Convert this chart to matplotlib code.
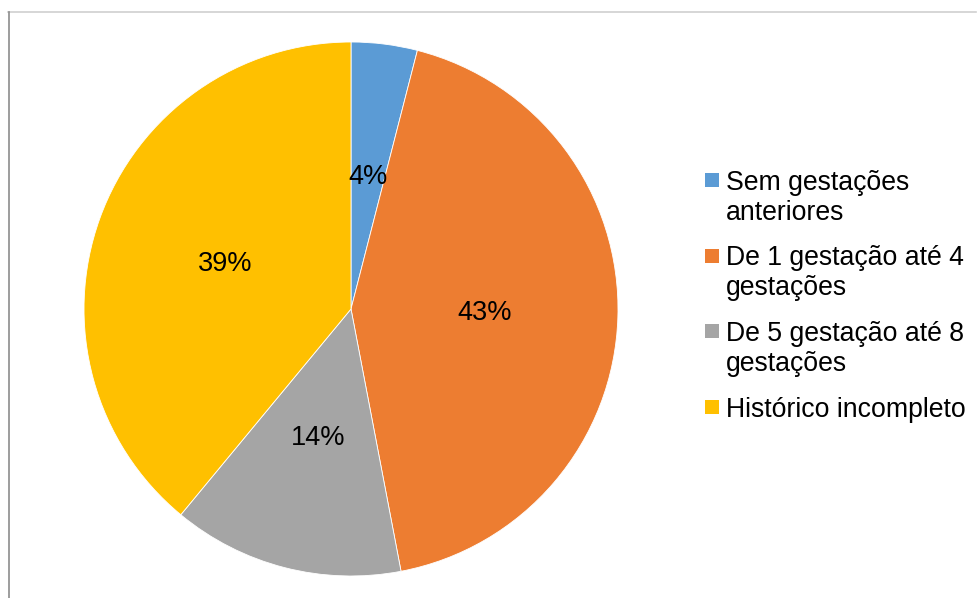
import matplotlib
matplotlib.use("Agg")
import matplotlib.pyplot as plt
from matplotlib.patches import Rectangle
from matplotlib.lines import Line2D

categories = ["Sem gestações\nanteriores",
              "De 1 gestação até 4\ngestações",
              "De 5 gestação até 8\ngestações",
              "Histórico incompleto"]
values = [4, 43, 14, 39]
colors = ["#5B9BD5", "#ED7D31", "#A5A5A5", "#FFC000"]

plt.rcParams['font.family'] = ['Liberation Sans', 'DejaVu Sans']

W, H = 978, 598
fig = plt.figure(figsize=(W / 100, H / 100), dpi=100)

cx, cy, r = 351, 309, 267
ax = fig.add_axes([(cx - r) / W, (H - cy - r) / H, 2 * r / W, 2 * r / H])
wedges, texts, autotexts = ax.pie(values, colors=colors, startangle=90, counterclock=False,
                                  autopct='%1.0f%%', pctdistance=0.5, radius=1,
                                  wedgeprops=dict(linewidth=0.6, edgecolor='white'),
                                  textprops=dict(fontsize=19.5, color='#000000'))
ax.set_xlim(-1, 1)
ax.set_ylim(-1, 1)
ax.set_aspect('equal')
ax.axis('off')

# border lines
fig.add_artist(Line2D([8 / W, 976 / W], [(H - 12) / H, (H - 12) / H], color='#d0d0d0', lw=1.2))
fig.add_artist(Line2D([8.5 / W, 8.5 / W], [0, (H - 12) / H], color='#8c8c8c', lw=1.2))

# legend
sq = 14
first_y = 180
step = 75.7
line_sp = 30
for i, (lab, col) in enumerate(zip(categories, colors)):
    yc = first_y + step * i
    fig.add_artist(Rectangle((705 / W, (H - yc - sq / 2) / H), sq / W, sq / H,
                             facecolor=col, edgecolor='none', transform=fig.transFigure))
    for j, line in enumerate(lab.split("\n")):
        yl = yc + j * line_sp
        fig.text(726 / W, (H - yl - 9.5) / H, line, fontsize=19.2, color='#000000',
                 ha='left', va='baseline')

fig.savefig("out.png", dpi=100, facecolor='white')
